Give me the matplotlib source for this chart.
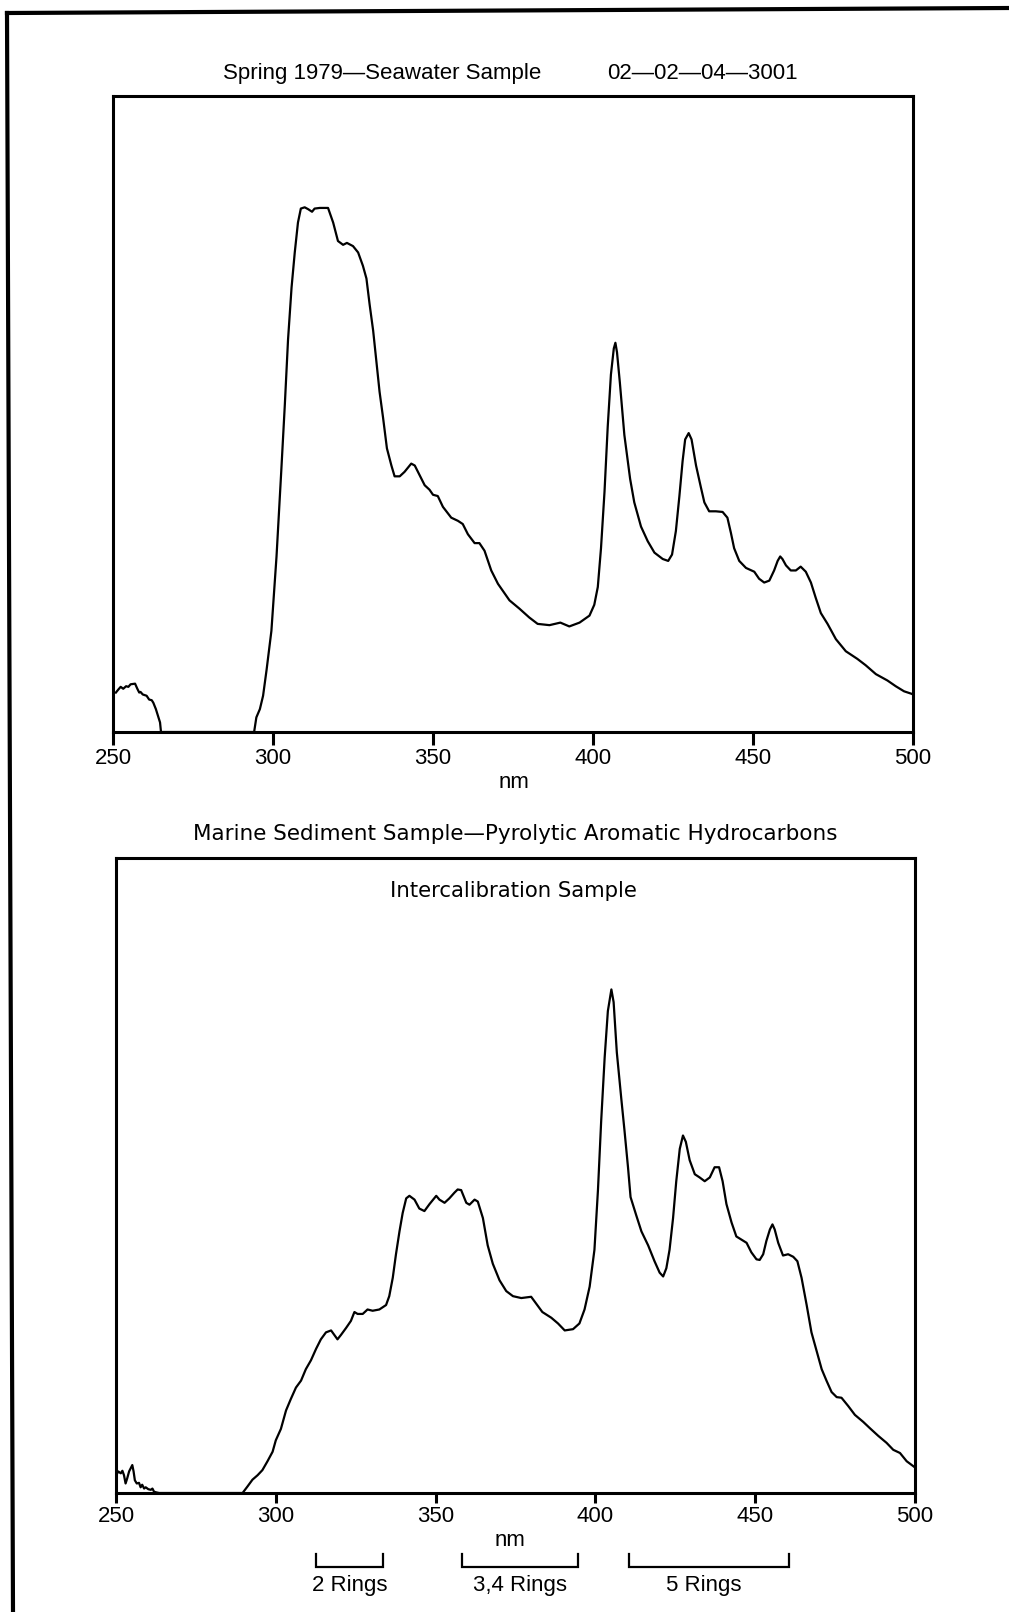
import matplotlib
matplotlib.use("Agg")
from matplotlib import pyplot as plt
from matplotlib.lines import Line2D
import matplotlib.transforms as mtransforms

plt.rcParams['font.family'] = ['Liberation Sans', 'DejaVu Sans']

# Spring 1979 seawater sample, synchronous fluorescence trace (relative units)
seawater_nm = [250.9, 251.7, 252.4, 253.2, 254.1, 254.8, 255.5, 256.9, 257.6, 258.2,
               258.6, 259.3, 260.5, 261.3, 262.1, 262.6, 263.4, 264.1, 264.7, 265.0,
               280.0, 294.1, 294.8, 295.9, 296.9, 298.0, 298.8, 299.5, 301.1, 302.6,
               303.7, 304.7, 305.8, 306.8, 307.8, 308.7, 309.9, 311.0, 312.2, 313.0,
               314.6, 317.2, 318.8, 320.3, 321.9, 323.1, 325.0, 326.6, 328.1, 329.2,
               330.2, 331.3, 332.3, 333.3, 334.4, 335.6, 337.0, 338.0, 339.6, 341.1,
               343.2, 344.3, 345.8, 347.4, 348.9, 350.0, 351.5, 353.1, 355.7, 357.8,
               359.3, 360.9, 363.0, 364.5, 366.1, 368.2, 370.3, 373.9, 377.0, 380.1,
               382.7, 386.4, 389.8, 392.6, 395.8, 398.9, 400.4, 401.5, 402.5, 403.6,
               404.6, 405.6, 406.5, 407.0, 407.5, 408.4, 409.8, 411.6, 412.9, 415.0,
               417.1, 419.2, 421.8, 423.5, 424.7, 425.9, 427.0, 428.0, 428.8, 429.9,
               430.8, 432.2, 433.7, 434.8, 436.3, 438.4, 440.5, 442.0, 443.1, 444.1,
               445.7, 447.8, 450.4, 451.9, 453.5, 455.1, 456.6, 457.7, 458.5, 459.2,
               460.3, 461.8, 463.4, 464.9, 466.5, 468.1, 469.6, 471.2, 473.3, 475.9,
               479.0, 482.6, 485.2, 488.4, 492.0, 494.6, 497.2, 499.6, 500.0]
seawater_int = [6.2, 6.7, 7.1, 6.8, 7.2, 7.1, 7.5, 7.6, 6.8, 6.2,
                6.3, 5.9, 5.7, 5.1, 5.0, 4.6, 3.6, 2.5, 1.5, 0.0,
                0.0, 0.0, 2.3, 3.6, 5.7, 9.8, 13.0, 15.9, 27.6, 41.2,
                51.5, 61.7, 69.9, 75.4, 80.1, 82.3, 82.5, 82.2, 81.8, 82.3,
                82.4, 82.4, 80.1, 77.2, 76.6, 76.9, 76.4, 75.4, 73.3, 71.3,
                67.2, 63.1, 58.3, 53.5, 49.4, 44.6, 41.9, 40.2, 40.2, 40.9,
                42.2, 41.9, 40.4, 38.8, 38.1, 37.3, 37.1, 35.4, 33.7, 33.2,
                32.7, 31.1, 29.7, 29.7, 28.5, 25.4, 23.3, 20.7, 19.4, 18.0,
                17.0, 16.8, 17.2, 16.6, 17.2, 18.3, 20.0, 22.8, 28.9, 37.8,
                48.0, 56.2, 60.3, 61.2, 59.7, 54.9, 46.7, 39.8, 36.1, 32.3,
                30.0, 28.2, 27.2, 26.9, 27.9, 31.6, 37.1, 42.6, 46.0, 47.0,
                46.0, 41.9, 38.5, 36.1, 34.7, 34.7, 34.6, 33.7, 31.3, 28.9,
                26.9, 25.8, 25.2, 24.1, 23.5, 23.8, 25.4, 26.9, 27.6, 27.2,
                26.2, 25.4, 25.4, 26.0, 25.2, 23.5, 21.1, 18.7, 17.0, 14.6,
                12.7, 11.5, 10.5, 9.1, 8.1, 7.2, 6.4, 6.0, 5.9]

# Marine sediment intercalibration sample, pyrolytic aromatic hydrocarbons
sediment_nm = [250.1, 250.7, 251.5, 252.0, 252.5, 253.0, 253.5, 254.1, 254.6, 255.1,
               255.5, 255.9, 256.5, 257.2, 257.7, 258.2, 258.8, 259.3, 260.1, 260.9,
               261.4, 261.9, 262.6, 263.5, 289.6, 291.1, 292.7, 294.3, 295.8, 297.4,
               299.0, 300.0, 301.6, 303.2, 304.7, 306.3, 307.9, 309.4, 311.0, 312.6,
               314.1, 315.7, 317.3, 318.3, 319.3, 320.4, 322.0, 323.5, 324.6, 325.6,
               327.2, 328.7, 330.3, 332.4, 334.5, 335.5, 336.6, 337.6, 338.7, 339.7,
               340.8, 341.8, 343.4, 344.9, 346.5, 348.1, 350.2, 351.2, 352.8, 354.3,
               355.9, 356.9, 358.0, 359.6, 360.6, 362.2, 363.2, 364.8, 366.3, 367.9,
               370.0, 372.1, 374.2, 376.8, 379.9, 381.5, 383.4, 386.2, 388.3, 390.4,
               393.0, 395.0, 396.6, 398.2, 399.7, 400.8, 401.8, 402.9, 403.9, 405.0,
               405.7, 406.7, 408.1, 409.1, 410.2, 411.0, 412.8, 414.4, 416.5, 418.5,
               420.1, 421.2, 422.2, 423.2, 424.3, 425.3, 426.4, 427.4, 428.3, 429.5,
               431.1, 432.6, 434.2, 435.8, 437.3, 438.7, 439.8, 441.0, 442.6, 444.1,
               445.7, 447.3, 448.8, 450.4, 451.4, 452.5, 453.5, 454.6, 455.4, 456.1,
               457.2, 458.7, 460.3, 461.9, 463.2, 464.5, 466.1, 467.6, 469.2, 470.8,
               472.3, 473.9, 475.5, 477.0, 479.1, 481.2, 483.8, 485.9, 488.5, 491.1,
               493.2, 495.3, 497.4, 499.8, 500.0]
sediment_int = [2.8, 3.4, 3.1, 3.5, 2.8, 1.5, 2.3, 3.4, 3.9, 4.4,
                3.4, 2.0, 1.5, 1.6, 0.9, 1.3, 0.7, 0.9, 0.6, 0.5,
                0.7, 0.2, 0.1, 0.0, 0.0, 1.0, 2.1, 2.8, 3.6, 5.0,
                6.5, 8.3, 10.1, 13.0, 14.8, 16.6, 17.7, 19.5, 20.9, 22.7,
                24.2, 25.3, 25.6, 24.9, 24.2, 24.9, 26.0, 27.1, 28.5, 28.2,
                28.2, 28.9, 28.7, 28.9, 29.6, 31.0, 33.9, 37.6, 41.2, 44.1,
                46.4, 46.8, 46.2, 44.8, 44.4, 45.5, 46.8, 46.2, 45.7, 46.4,
                47.3, 47.8, 47.7, 45.7, 45.4, 46.2, 45.9, 43.3, 39.0, 36.1,
                33.5, 31.8, 31.0, 30.7, 30.9, 29.8, 28.5, 27.6, 26.7, 25.6,
                25.8, 26.7, 28.9, 32.5, 38.3, 47.7, 58.5, 68.6, 75.9, 79.3,
                77.3, 69.4, 62.1, 57.1, 51.3, 46.6, 43.7, 41.2, 39.0, 36.5,
                34.7, 34.1, 35.4, 38.3, 43.3, 49.1, 54.2, 56.3, 55.3, 52.4,
                50.2, 49.7, 49.1, 49.7, 51.3, 51.3, 49.1, 45.5, 42.6, 40.4,
                39.9, 39.4, 37.9, 36.8, 36.7, 37.6, 39.7, 41.5, 42.3, 41.5,
                39.4, 37.4, 37.6, 37.2, 36.5, 33.9, 29.6, 25.3, 22.4, 19.5,
                17.7, 15.9, 15.1, 15.0, 13.7, 12.3, 11.2, 10.2, 9.0, 7.9,
                6.8, 6.3, 5.0, 4.1, 4.0]

tick_values = [250, 300, 350, 400, 450, 500]
ring_ranges = [(312.7, 333.6), (358.4, 394.7), (410.4, 460.5)]
ring_labels = ['2 Rings', '3,4 Rings', '5 Rings']
ring_label_x = [323.2, 376.5, 433.8]

W, H = 1009, 1612
fig = plt.figure(figsize=(W / 100, H / 100), dpi=100)
fig.patch.set_facecolor('white')


def fx(px):
    return px / W


def fy(py):
    return 1 - py / H


def make_axes(left, right, top, bottom, tick_len):
    ax = fig.add_axes([fx(left), fy(bottom), fx(right) - fx(left), (bottom - top) / H])
    ax.set_xlim(250, 500)
    ax.set_ylim(0, 100)
    ax.set_xticks(tick_values)
    ax.set_xticklabels([str(t) for t in tick_values])
    ax.set_yticks([])
    ax.tick_params(axis='x', direction='out', length=tick_len, width=2.2,
                   pad=2, labelsize=16, colors='black')
    for sp in ax.spines.values():
        sp.set_linewidth(2.2)
        sp.set_color('black')
    return ax


# upper panel
ax1 = make_axes(113, 913, 96, 732, 9.5)
ax1.plot(seawater_nm, seawater_int, color='black', lw=1.6)
fig.text(fx(223), fy(79), 'Spring 1979\u2014Seawater Sample', fontsize=16, va='baseline', ha='left')
fig.text(fx(607), fy(79), '02\u201402\u201404\u20143001', fontsize=16, va='baseline', ha='left')
fig.text(fx(514), fy(788), 'nm', fontsize=16, va='baseline', ha='center')

# lower panel
ax2 = make_axes(116, 915, 858, 1493, 7.2)
ax2.plot(sediment_nm, sediment_int, color='black', lw=1.6)
fig.text(fx(515), fy(840), 'Marine Sediment Sample\u2014Pyrolytic Aromatic Hydrocarbons',
         fontsize=15.5, family='DejaVu Sans', va='baseline', ha='center')
fig.text(fx(513), fy(897), 'Intercalibration Sample', fontsize=15.3, family='DejaVu Sans',
         va='baseline', ha='center')
fig.text(fx(510), fy(1546), 'nm', fontsize=16, va='baseline', ha='center')

# ring-number brackets under the lower axis
trans = mtransforms.blended_transform_factory(ax2.transData, fig.transFigure)
y_line, y_top = fy(1567), fy(1554)
for (x0, x1), label, lx in zip(ring_ranges, ring_labels, ring_label_x):
    ax2.plot([x0, x0, x1, x1], [y_top, y_line, y_line, y_top], color='black', lw=1.6,
             transform=trans, clip_on=False, solid_joinstyle='miter')
    ax2.text(lx, fy(1591), label, fontsize=16, ha='center', va='baseline', transform=trans)

# page frame along the top and left edges
fig.add_artist(Line2D([fx(7), fx(1009)], [fy(13), fy(8)], color='black', lw=3,
                      transform=fig.transFigure))
fig.add_artist(Line2D([fx(7), fx(13)], [fy(13), fy(1612)], color='black', lw=3,
                      transform=fig.transFigure))

fig.savefig('out.png', dpi=100, facecolor='white')
